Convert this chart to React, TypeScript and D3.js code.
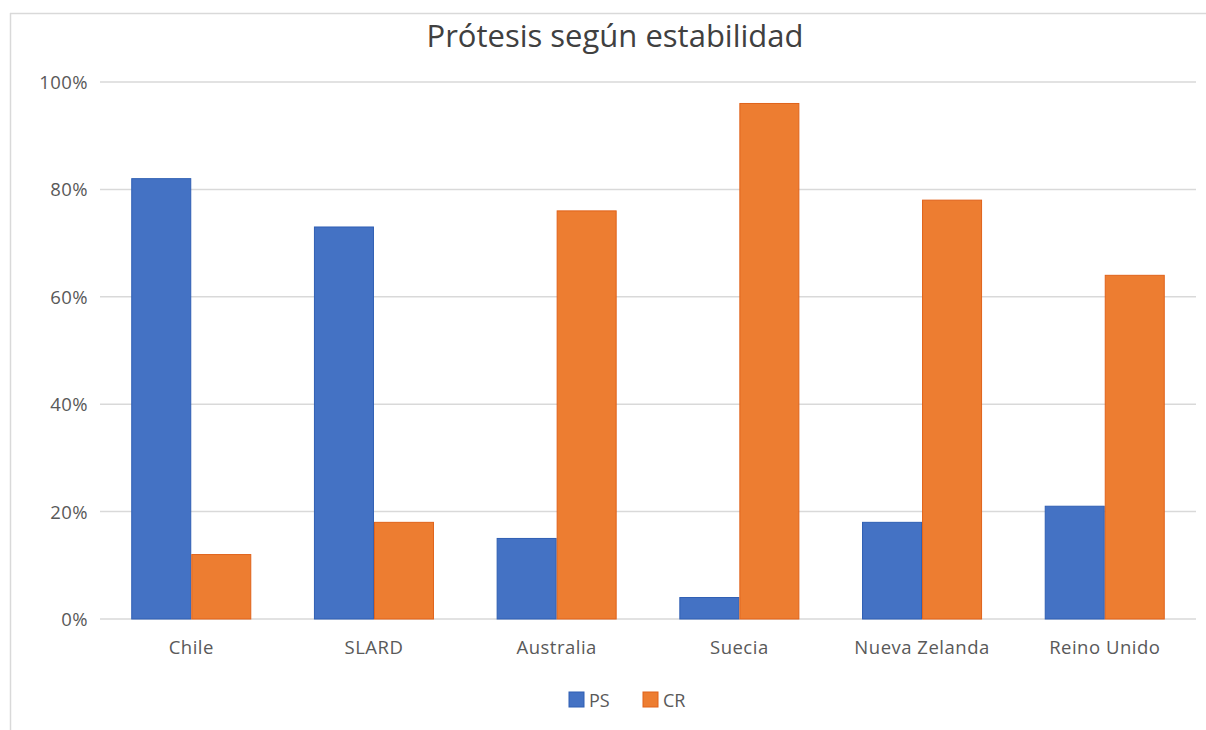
import React from "react";
import * as d3 from "d3";

const title = "Prótesis según estabilidad";
const categories = ["Chile", "SLARD", "Australia", "Suecia", "Nueva Zelanda", "Reino Unido"];
const seriesNames = ["PS", "CR"];
const psValues = [82, 73, 15, 4, 18, 21];
const crValues = [12, 18, 76, 96, 78, 64];
const yTicks = [0, 20, 40, 60, 80, 100];
const colors = ["#4472C4", "#ED7D31"];
const strokes = ["#2F5FB3", "#E0621A"];

const W = 1206;
const H = 730;
const left = 100;
const right = 1196;
const top = 82;
const bottom = 619;
const font = "'Open Sans', Lato, sans-serif";

export default function App() {
  const x = d3.scaleBand<string>().domain(categories).range([left, right]).paddingInner(0.343).paddingOuter(0.171);
  const x1 = d3.scaleBand<string>().domain(seriesNames).range([0, x.bandwidth()]);
  const y = d3.scaleLinear().domain([0, 100]).range([bottom, top]);
  const series = [psValues, crValues];

  return (
    <div style={{ position: "fixed", left: 0, top: 0, width: W, height: H, background: "#fff" }}>
      <svg width={W} height={H} style={{ display: "block" }}>
        <rect x={0} y={0} width={W} height={H} fill="#fff" />
        <line x1={10} x2={W} y1={13.5} y2={13.5} stroke="#d9d9d9" strokeWidth={1.5} />
        <line x1={10.5} x2={10.5} y1={13} y2={H} stroke="#d9d9d9" strokeWidth={1.5} />
        <text x={615} y={47} textAnchor="middle" fontFamily={font} fontSize={31} fill="#404040">
          {title}
        </text>
        {yTicks.map((t) => (
          <g key={t}>
            <line x1={left} x2={right} y1={y(t)} y2={y(t)} stroke="#d9d9d9" strokeWidth={1.5} />
            <text x={88} y={y(t) + 7} textAnchor="end" fontFamily={font} fontSize={18.5} letterSpacing={0.4} fill="#595959">
              {t}%
            </text>
          </g>
        ))}
        {categories.map((c, i) => (
          <g key={c} transform={`translate(${x(c)},0)`}>
            {series.map((vals, s) => (
              <rect
                key={s}
                x={x1(seriesNames[s])! + 0.5}
                y={y(vals[i])}
                width={x1.bandwidth() - 1}
                height={y(0) - y(vals[i])}
                fill={colors[s]}
                stroke={strokes[s]}
                strokeWidth={1}
              />
            ))}
            <text x={x.bandwidth() / 2} y={654} textAnchor="middle" fontFamily={font} fontSize={18.5} letterSpacing={0.5} fill="#595959">
              {c}
            </text>
          </g>
        ))}
        {seriesNames.map((n, s) => (
          <g key={n} transform={`translate(${569 + s * 74},${692})`}>
            <rect x={0} y={0} width={15} height={15} fill={colors[s]} stroke={strokes[s]} />
            <text x={20} y={15} fontFamily={font} fontSize={18} fill="#595959">
              {n}
            </text>
          </g>
        ))}
      </svg>
    </div>
  );
}
